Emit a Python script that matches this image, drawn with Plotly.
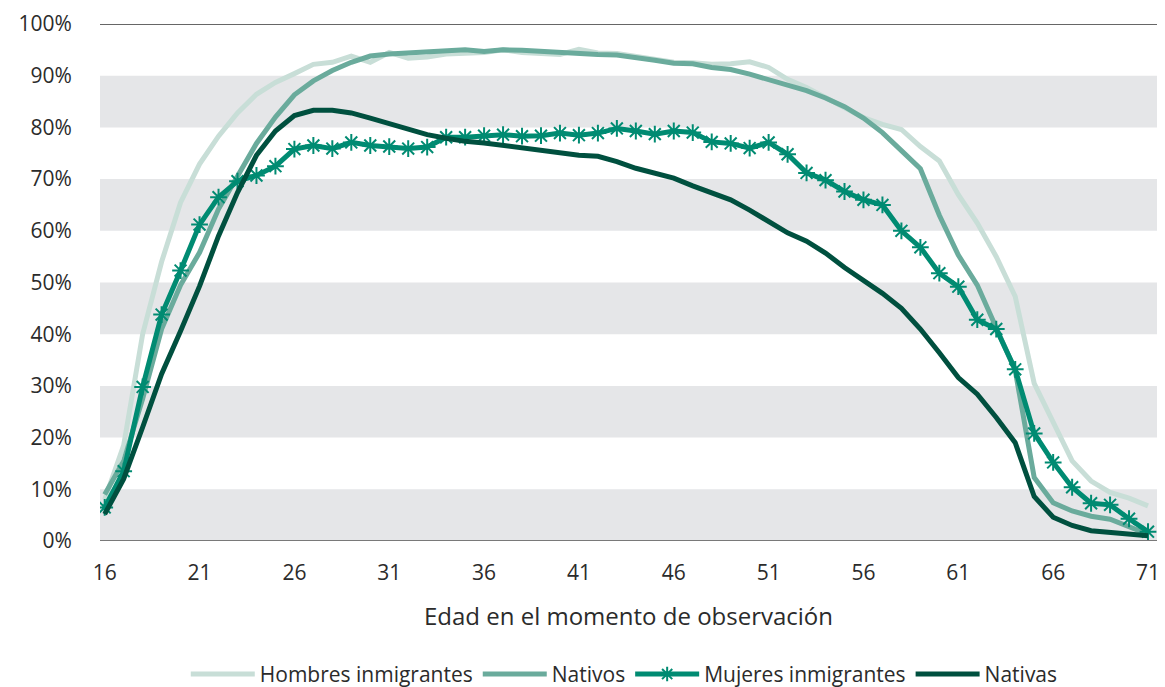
import plotly.graph_objects as go

ages = list(range(16, 72))

hombres_inmigrantes = [8, 18.5, 40, 54, 65.5, 72.9, 78.3, 82.8, 86.4, 88.7, 90.4, 92.2, 92.6, 93.8, 92.6,
                       94.5, 93.4, 93.6, 94.2, 94.4, 94.5, 95, 94.5, 94.3, 94.1, 95.1, 94.4, 94.3, 93.8, 93.1,
                       92.6, 92.5, 92.2, 92.3, 92.7, 91.6, 89.3, 87.7, 85.8, 83.9, 81.9, 80.6, 79.6, 76.3, 73.5,
                       67, 61.5, 55, 47.3, 30.5, 23, 15.5, 11.6, 9.4, 8.3, 6.8]
nativos = [9, 15.5, 27.5, 41, 49.5, 55.8, 64.2, 70.5, 76.9, 82, 86.3, 89, 91, 92.6, 93.8,
           94.2, 94.4, 94.7, 94.9, 95, 94.7, 95, 94.9, 94.7, 94.5, 94.1, 94.1, 94, 93.6, 93,
           92.4, 92.3, 91.6, 91.2, 90.3, 89.2, 88.2, 87.1, 85.7, 84, 81.8, 79, 75.5, 72, 63,
           55.3, 49.5, 41, 33, 12.3, 7.4, 5.8, 4.8, 4.2, 2.7, 1.3]
mujeres_inmigrantes = [6.5, 13.5, 29.8, 43.8, 52.3, 61.2, 66.5, 69.6, 70.7, 72.5, 75.8, 76.5, 75.9, 77.1, 76.5,
                       76.3, 75.9, 76.2, 78.1, 78.1, 78.4, 78.6, 78.3, 78.4, 78.9, 78.5, 78.9, 79.8, 79.3, 78.7,
                       79.3, 79, 77.2, 76.9, 76, 77.1, 74.8, 71.2, 69.8, 67.6, 66, 65, 60, 56.8, 51.8,
                       49.2, 42.8, 41, 33.2, 20.8, 15.2, 10.4, 7.3, 7, 4.3, 1.8]
nativas = [5.2, 12, 22, 32.3, 40.6, 49.3, 59, 67.4, 74.6, 79.3, 82.3, 83.3, 83.3, 82.8, 81.8,
           80.7, 79.5, 78.6, 77.9, 77.3, 77, 76.5, 76.1, 75.5, 75, 74.6, 74.4, 73.4, 72.1, 71.1,
           70.2, 68.7, 67.3, 66, 64, 61.9, 59.6, 58, 55.7, 52.9, 50.4, 47.9, 45, 41, 36.4,
           31.6, 28.4, 23.9, 19, 8.6, 4.6, 3, 2, 1.7, 1.2, 1]

series_names = ["Hombres inmigrantes", "Nativos", "Mujeres inmigrantes", "Nativas"]
series_values = [hombres_inmigrantes, nativos, mujeres_inmigrantes, nativas]
colors = ["#c8ded7", "#6aab9c", "#008b72", "#00503f"]

x_ticks = list(range(16, 72, 5))
y_ticks = list(range(0, 101, 10))
y_tick_labels = [f"{v}%" for v in y_ticks]
band_starts = [0, 20, 40, 60, 80]

FONT = "Open Sans"
TXT = "#2b2b2b"

fig = go.Figure()
for name, vals, col in zip(series_names, series_values, colors):
    if name == "Mujeres inmigrantes":
        fig.add_trace(go.Scatter(
            x=ages, y=vals, name=name, mode="lines+markers",
            line=dict(color=col, width=5),
            marker=dict(symbol="asterisk-open", size=14, color=col, line=dict(color=col, width=2)),
        ))
    else:
        fig.add_trace(go.Scatter(
            x=ages, y=vals, name=name, mode="lines",
            line=dict(color=col, width=5),
        ))

shapes = []
for b in band_starts:
    shapes.append(dict(type="rect", xref="paper", yref="y", x0=0, x1=1, y0=b, y1=b + 10,
                       fillcolor="#e5e6e8", line=dict(width=0), layer="below"))
for yv, lc in [(0, "#555555"), (100, "#333333")]:
    shapes.append(dict(type="line", xref="paper", yref="y", x0=0, x1=1, y0=yv, y1=yv,
                       line=dict(color=lc, width=1.5), layer="below"))

fig.update_layout(
    width=1157, height=679,
    margin=dict(l=92, r=8, t=16, b=146, autoexpand=False),
    paper_bgcolor="white", plot_bgcolor="white",
    font=dict(family=FONT, color=TXT, size=21),
    shapes=shapes,
    showlegend=True,
    legend=dict(orientation="h", x=0.496, xanchor="center", y=-0.258, yanchor="middle",
                font=dict(size=21, family=FONT, color=TXT), itemwidth=64,
                traceorder="normal", itemsizing="constant"),
    xaxis=dict(range=[15.752, 71.474], tickvals=x_ticks, showgrid=False, zeroline=False,
               showline=False, ticks="outside", ticklen=13, tickcolor="rgba(0,0,0,0)",
               automargin=False, ticklabeloverflow="allow",
               tickfont=dict(size=21, family=FONT, color=TXT),
               title=dict(text="Edad en el momento de observación", standoff=22,
                          font=dict(size=24, family=FONT, color=TXT))),
    yaxis=dict(range=[0, 100], tickvals=y_ticks, ticktext=y_tick_labels, showgrid=False, zeroline=False,
               showline=False, ticks="outside", ticklen=23, tickcolor="rgba(0,0,0,0)",
               automargin=False, ticklabeloverflow="allow",
               tickfont=dict(size=21, family=FONT, color=TXT)),
)

fig.write_html("out.html")
